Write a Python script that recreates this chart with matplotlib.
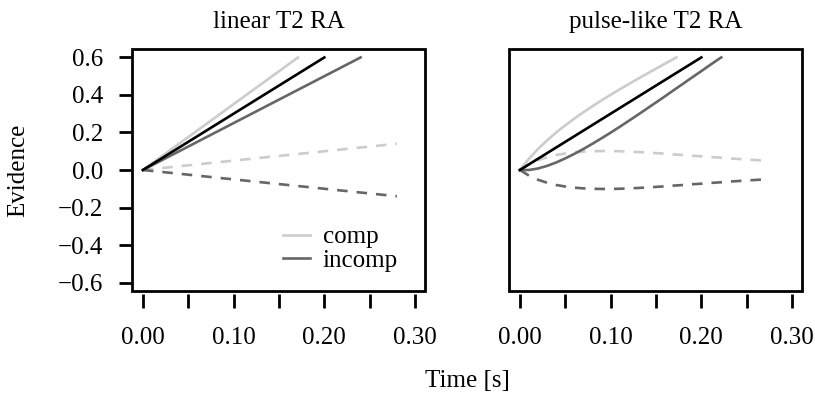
import matplotlib
matplotlib.use("Agg")
import matplotlib.pyplot as plt
from matplotlib.patches import Rectangle

plt.rcParams["font.family"] = ["Liberation Serif", "DejaVu Serif"]
plt.rcParams["font.size"] = 18

# ---- data ----
# linear T2 RA panel
lin_ctrl_t = [0, 0.20]
lin_ctrl_ev = [0, 0.60]
lin_comp_t = [0, 0.171]
lin_comp_ev = [0, 0.60]
lin_incomp_t = [0, 0.24]
lin_incomp_ev = [0, 0.60]
lin_t2_t = [0, 0.28]
lin_t2_comp = [0, 0.14]
lin_t2_incomp = [0, -0.14]

# pulse-like T2 RA panel
pulse_ctrl_t = [0, 0.20]
pulse_ctrl_ev = [0, 0.60]
pulse_t2_t = [0, 0.01, 0.02, 0.03, 0.04, 0.05, 0.06, 0.07, 0.08, 0.09, 0.10,
              0.11, 0.12, 0.13, 0.14, 0.15, 0.16, 0.17, 0.18, 0.19, 0.20,
              0.21, 0.22, 0.23, 0.24, 0.25, 0.26, 0.27, 0.275]
pulse_t2_comp = [0, 0.030, 0.052, 0.068, 0.080, 0.088, 0.094, 0.098, 0.100, 0.101, 0.101,
                 0.100, 0.098, 0.096, 0.093, 0.090, 0.087, 0.083, 0.080, 0.076, 0.073,
                 0.069, 0.066, 0.062, 0.059, 0.056, 0.053, 0.050, 0.048]
pulse_t2_incomp = [-v for v in pulse_t2_comp]
pulse_comp_t = [0, 0.01, 0.02, 0.03, 0.04, 0.05, 0.06, 0.07, 0.08, 0.09, 0.10,
                0.11, 0.12, 0.13, 0.14, 0.15, 0.16, 0.17, 0.1725]
pulse_comp_ev = [0, 0.060, 0.112, 0.158, 0.200, 0.238, 0.274, 0.308, 0.340, 0.371, 0.401,
                 0.430, 0.458, 0.486, 0.513, 0.540, 0.567, 0.593, 0.600]
pulse_incomp_t = [0, 0.01, 0.02, 0.03, 0.04, 0.05, 0.06, 0.07, 0.08, 0.09, 0.10,
                  0.11, 0.12, 0.13, 0.14, 0.15, 0.16, 0.17, 0.18, 0.19, 0.20,
                  0.21, 0.22, 0.222]
pulse_incomp_ev = [0, 0.000, 0.008, 0.022, 0.040, 0.062, 0.086, 0.112, 0.140, 0.169, 0.199,
                   0.230, 0.262, 0.294, 0.327, 0.360, 0.393, 0.427, 0.460, 0.494, 0.527,
                   0.561, 0.594, 0.600]

x_ticks = [0, 0.05, 0.10, 0.15, 0.20, 0.25, 0.30]
x_labels = ["0.00", "", "0.10", "", "0.20", "", "0.30"]
y_ticks = [-0.6, -0.4, -0.2, 0.0, 0.2, 0.4, 0.6]

light = "#cccccc"
dark = "#666666"
lw = 1.9
dash = (0, (4, 3.4))

fig = plt.figure(figsize=(8.15, 3.97), dpi=100)
W, H = 815, 397
ax1 = fig.add_axes([132 / W, (H - 291) / H, 293 / W, 242 / H])
ax2 = fig.add_axes([509 / W, (H - 291) / H, 293 / W, 242 / H])


def style(ax, title, show_y):
    ax.set_xlim(-0.012, 0.311)
    ax.set_ylim(-0.645, 0.645)
    for s in ax.spines.values():
        s.set_visible(False)
    ax.spines["bottom"].set_position(("outward", 2))
    ax.spines["left"].set_position(("outward", 1))
    ax.add_patch(Rectangle((0, 0), 1, 1, transform=ax.transAxes, fill=False,
                           lw=2.0, edgecolor="black", clip_on=False, zorder=5))
    ax.set_xticks(x_ticks)
    ax.set_xticklabels(x_labels)
    ax.tick_params(axis="x", length=10, width=2.0, pad=14)
    if show_y:
        ax.set_yticks(y_ticks)
        ax.set_yticklabels([f"{v:.1f}".replace("-", "\u2212") for v in y_ticks])
        ax.tick_params(axis="y", length=8.5, width=2.0, pad=11)
    else:
        ax.set_yticks([])
    ax.set_title(title, fontsize=18, pad=15)


# left panel: linear
ax1.plot(lin_t2_t, lin_t2_comp, color=light, lw=lw, linestyle=dash)
ax1.plot(lin_t2_t, lin_t2_incomp, color=dark, lw=lw, linestyle=dash)
ax1.plot(lin_comp_t, lin_comp_ev, color=light, lw=lw, label="comp")
ax1.plot(lin_incomp_t, lin_incomp_ev, color=dark, lw=lw, label="incomp")
ax1.plot(lin_ctrl_t, lin_ctrl_ev, color="black", lw=lw)
style(ax1, "linear T2 RA", True)
ax1.legend(loc="center left", bbox_to_anchor=(0.515, 0.174), frameon=False,
           fontsize=18, handlelength=1.1, handletextpad=0.5, labelspacing=0.05,
           borderpad=0, borderaxespad=0)

# right panel: pulse-like
ax2.plot(pulse_t2_t, pulse_t2_comp, color=light, lw=lw, linestyle=dash)
ax2.plot(pulse_t2_t, pulse_t2_incomp, color=dark, lw=lw, linestyle=dash)
ax2.plot(pulse_comp_t, pulse_comp_ev, color=light, lw=lw)
ax2.plot(pulse_incomp_t, pulse_incomp_ev, color=dark, lw=lw)
ax2.plot(pulse_ctrl_t, pulse_ctrl_ev, color="black", lw=lw)
style(ax2, "pulse-like T2 RA", False)

fig.text(18 / W, 1 - 170 / H, "Evidence", rotation=90, ha="center", va="center", fontsize=18)
fig.text(467 / W, 1 - 381 / H, "Time [s]", ha="center", va="center", fontsize=18)

plt.savefig("out.png", dpi=100)
